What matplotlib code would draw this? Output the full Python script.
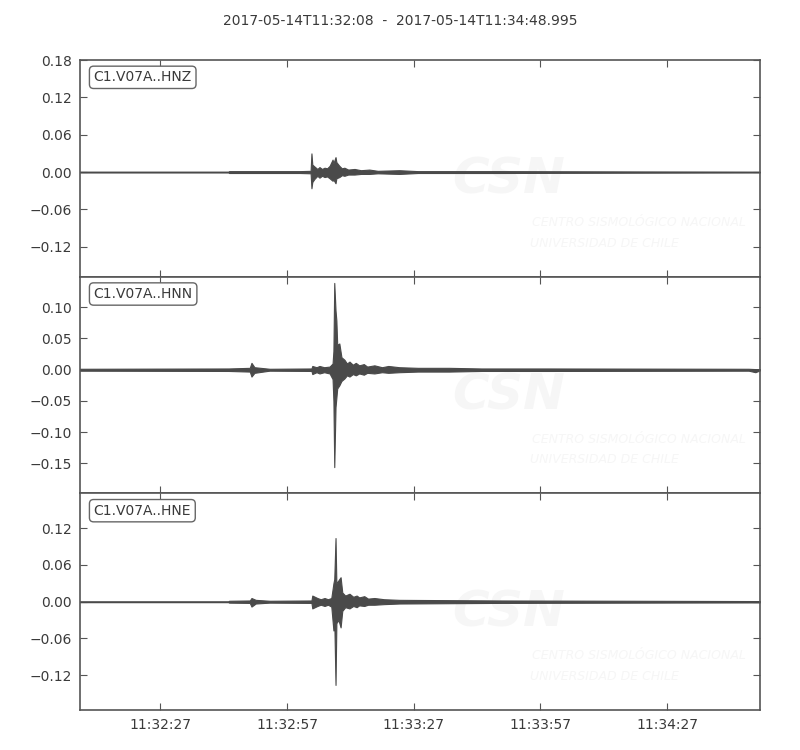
import matplotlib
matplotlib.use("Agg")
import matplotlib.pyplot as plt
from matplotlib.ticker import MultipleLocator

title = "2017-05-14T11:32:08  -  2017-05-14T11:34:48.995"
channels = ["C1.V07A..HNZ", "C1.V07A..HNN", "C1.V07A..HNE"]

# seconds after 11:32:08
tick_pos = [19, 49, 79, 109, 139]
tick_labels = ["11:32:27", "11:32:57", "11:33:27", "11:33:57", "11:34:27"]

# envelope of each trace (seconds, max, min)
hnz_t = [0.0, 35.1, 35.3, 52.0, 54.6, 54.8, 55.0, 55.5, 56.2, 56.7, 57.3, 57.9, 58.5, 59.1,
         59.8, 60.0, 60.5, 60.7, 61.4, 62.0, 62.6, 63.5, 65.0, 66.5, 68.5, 70.5, 75.6, 80.0,
         99.2, 127.6, 161.0]
hnz_hi = [0.0005, 0.0005, 0.0015, 0.0015, 0.002, 0.030, 0.012, 0.009, 0.005, 0.008, 0.005,
          0.007, 0.006, 0.010, 0.020, 0.014, 0.024, 0.016, 0.010, 0.006, 0.007, 0.004, 0.005,
          0.003, 0.004, 0.002, 0.003, 0.0015, 0.0015, 0.001, 0.0005]
hnz_lo = [-0.0005, -0.0005, -0.0015, -0.0015, -0.002, -0.026, -0.016, -0.011, -0.006, -0.009,
          -0.006, -0.008, -0.007, -0.010, -0.014, -0.012, -0.018, -0.010, -0.008, -0.005,
          -0.006, -0.004, -0.004, -0.003, -0.003, -0.002, -0.003, -0.0015, -0.0015, -0.001,
          -0.0005]

hnn_t = [0.0, 35.2, 40.2, 40.6, 41.3, 44.9, 54.8, 55.0, 56.0, 56.7, 57.8, 59.1, 59.8, 60.0,
         60.2, 60.5, 60.7, 60.9, 61.4, 61.9, 62.6, 63.2, 63.8, 64.6, 65.3, 66.1, 67.2, 68.0,
         69.7, 71.5, 73.0, 75.6, 80.0, 87.4, 95.0, 111.0, 158.3, 159.9, 161.0]
hnn_hi = [0.0015, 0.002, 0.003, 0.011, 0.004, 0.0015, 0.002, 0.006, 0.004, 0.006, 0.004,
          0.005, 0.010, 0.030, 0.139, 0.095, 0.079, 0.040, 0.042, 0.020, 0.016, 0.010, 0.013,
          0.008, 0.011, 0.007, 0.009, 0.005, 0.007, 0.004, 0.006, 0.004, 0.003, 0.003, 0.002,
          0.002, 0.0015, 0.001, 0.001]
hnn_lo = [-0.0015, -0.002, -0.003, -0.011, -0.005, -0.0015, -0.002, -0.007, -0.004, -0.006,
          -0.004, -0.006, -0.015, -0.050, -0.156, -0.060, -0.045, -0.030, -0.025, -0.018,
          -0.014, -0.009, -0.011, -0.007, -0.009, -0.006, -0.008, -0.005, -0.006, -0.004,
          -0.005, -0.004, -0.003, -0.003, -0.002, -0.002, -0.0015, -0.004, -0.001]

hne_t = [0.0, 35.1, 35.3, 40.2, 40.6, 41.6, 44.9, 54.8, 55.0, 56.2, 57.0, 57.9, 58.7, 59.5,
         60.0, 60.2, 60.5, 60.7, 61.2, 61.7, 62.1, 62.8, 63.8, 64.7, 65.5, 66.1, 67.3, 68.2,
         69.7, 72.0, 75.6, 99.2, 161.0]
hne_hi = [0.0005, 0.0005, 0.0015, 0.002, 0.006, 0.003, 0.0015, 0.002, 0.010, 0.006, 0.004,
          0.006, 0.004, 0.006, 0.030, 0.037, 0.104, 0.030, 0.035, 0.040, 0.015, 0.010, 0.013,
          0.008, 0.010, 0.007, 0.009, 0.005, 0.006, 0.004, 0.003, 0.002, 0.001]
hne_lo = [-0.0005, -0.0005, -0.0015, -0.002, -0.008, -0.003, -0.0015, -0.002, -0.011, -0.007,
          -0.005, -0.007, -0.005, -0.008, -0.047, -0.030, -0.136, -0.035, -0.030, -0.042,
          -0.015, -0.009, -0.011, -0.007, -0.009, -0.006, -0.007, -0.005, -0.005, -0.004,
          -0.003, -0.002, -0.001]

ylims = [(-0.168, 0.18), (-0.198, 0.149), (-0.177, 0.177)]
ysteps = [0.06, 0.05, 0.06]

TRACE = "#4a4a4a"
TEXT = "#3a3a3a"
SPINE = "#555555"
MARK = "#f6f6f6"


def main():
	plt.rcParams["font.family"] = "DejaVu Sans"
	plt.rcParams["font.size"] = 10

	fig, axes = plt.subplots(3, 1, figsize=(8, 7.5), dpi=100, sharex=True)
	fig.subplots_adjust(left=0.1, right=0.95, top=0.92, bottom=0.0533, hspace=0)
	fig.text(0.5, 0.972, title, ha="center", va="center", color=TEXT, fontsize=10)

	traces = [(hnz_t, hnz_hi, hnz_lo), (hnn_t, hnn_hi, hnn_lo), (hne_t, hne_hi, hne_lo)]

	for ax, name, (t, hi, lo), yl, st in zip(axes, channels, traces, ylims, ysteps):
		# faint watermark
		ax.text(0.63, 0.45, "CSN", transform=ax.transAxes, fontsize=36, fontweight="bold",
				fontstyle="italic", color=MARK, ha="center", va="center", zorder=0, clip_on=True)
		ax.text(0.665, 0.25, "CENTRO SISMOLÓGICO NACIONAL", transform=ax.transAxes,
				fontsize=9, fontstyle="italic", color=MARK, ha="left", va="center",
				zorder=0, clip_on=True)
		ax.text(0.662, 0.155, "UNIVERSIDAD DE CHILE", transform=ax.transAxes,
				fontsize=9, fontstyle="italic", color=MARK, ha="left", va="center",
				zorder=0, clip_on=True)

		ax.fill_between(t, lo, hi, color=TRACE, linewidth=0.8, edgecolor=TRACE, zorder=2)
		ax.plot([t[0], t[-1]], [0, 0], color=TRACE, linewidth=1.0, zorder=2)

		ax.set_xlim(0, 161)
		ax.set_ylim(*yl)
		ax.yaxis.set_major_locator(MultipleLocator(st))
		ax.tick_params(direction="in", top=True, right=True, length=5, width=0.8,
					   colors=SPINE, labelcolor=TEXT, labelsize=10, pad=6)
		for s in ax.spines.values():
			s.set_color(SPINE)
			s.set_linewidth(1.2)

		ax.text(0.02, 0.92, name, transform=ax.transAxes, ha="left", va="center",
				color=TEXT, fontsize=10, zorder=5,
				bbox=dict(boxstyle="round,pad=0.3", facecolor="white", edgecolor="#666666",
						  linewidth=1.0))

	axes[-1].set_xticks(tick_pos)
	axes[-1].set_xticklabels(tick_labels)

	fig.savefig("out.png", dpi=100)


if __name__ == '__main__':
	main()
